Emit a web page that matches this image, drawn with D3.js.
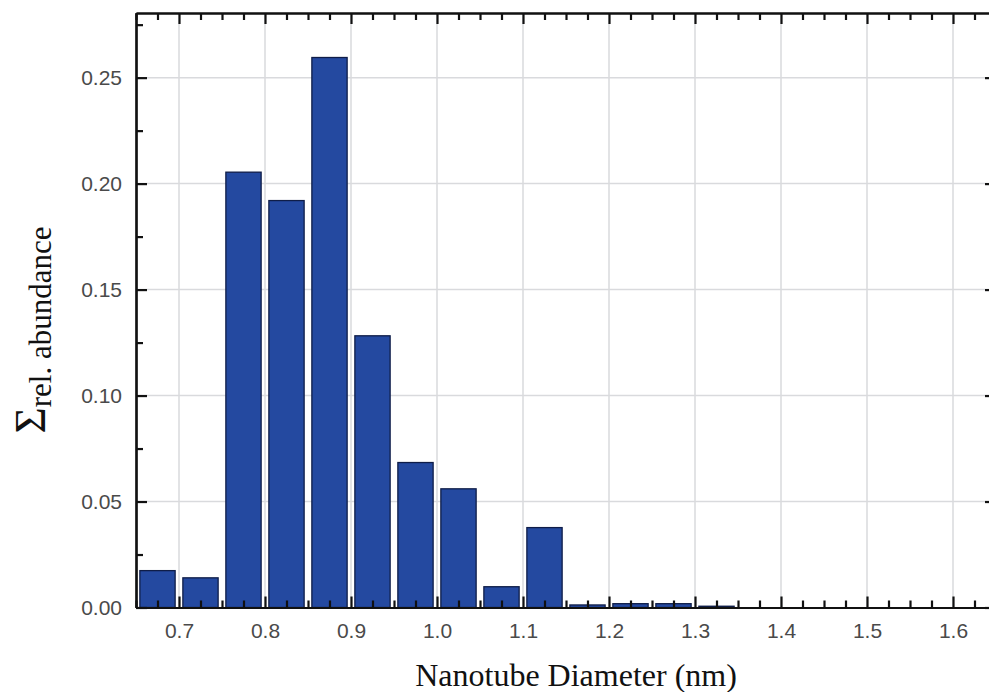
<!DOCTYPE html>
<html lang="en">
  <head>
    <meta charset="utf-8">
    <title>Nanotube diameter distribution</title>
    <style>
      body { margin: 0; background: #fff; }
      .axis path, .axis line { stroke: #111; stroke-width: 2.2px; }
      .axis text { font-family: "Liberation Sans", Arial, sans-serif; font-size: 21px; fill: #4a4a4a; }
      .grid line { stroke: #d9dadd; stroke-width: 1.5px; }
      .bar { fill: #2449a0; stroke: #0f1d48; stroke-width: 1.3px; }
      .title { font-family: "Liberation Serif", "Times New Roman", serif; fill: #111; }
    </style>
  </head>
  <body>
    <svg id="wrapper" width="989" height="692"></svg>

    <script src="https://cdnjs.cloudflare.com/ajax/libs/d3/7.8.5/d3.min.js"></script>
    <script>
    const margin = {top: 13, left: 136};
    const width = 860;
    const height = 594.5;

    // bin centres (nm) and relative abundance per bin
    const binCenters = [0.675, 0.725, 0.775, 0.825, 0.875, 0.925, 0.975, 1.025, 1.075, 1.125, 1.175, 1.225, 1.275, 1.325];
    const abundance  = [0.0174, 0.0140, 0.2054, 0.1920, 0.2595, 0.1282, 0.0684, 0.0560, 0.0098, 0.0377, 0.0012, 0.0018, 0.0018, 0.0006];

    const xTicks = [0.7, 0.8, 0.9, 1.0, 1.1, 1.2, 1.3, 1.4, 1.5, 1.6];
    const xMinor = d3.range(0.65, 1.651, 0.025).filter(v => Math.abs(Math.round(v * 10) - v * 10) > 0.01);
    const yTicks = [0.00, 0.05, 0.10, 0.15, 0.20, 0.25];
    const yMinor = [0.025, 0.075, 0.125, 0.175, 0.225, 0.275];
    const barWidth = 0.041;

    let svg = d3.select('#wrapper');
    let g = svg.append('g')
      .attr('transform', 'translate(' + margin.left + ',' + margin.top + ')');

    let x = d3.scaleLinear().domain([0.65, 1.65]).range([0, width]);
    let y = d3.scaleLinear().domain([0, 0.2805]).range([height, 0]);

    // grid
    g.append('g').attr('class', 'grid')
      .selectAll('line').data(xTicks).enter().append('line')
      .attr('x1', d => x(d)).attr('x2', d => x(d))
      .attr('y1', 0).attr('y2', height);
    g.append('g').attr('class', 'grid')
      .selectAll('line').data(yTicks.slice(1)).enter().append('line')
      .attr('x1', 0).attr('x2', width)
      .attr('y1', d => y(d)).attr('y2', d => y(d));

    // bars
    g.selectAll('.bar')
      .data(binCenters)
      .enter().append('rect')
      .attr('class', 'bar')
      .attr('x', d => x(d - barWidth / 2))
      .attr('width', x(barWidth) - x(0))
      .attr('y', (d, i) => y(abundance[i]))
      .attr('height', (d, i) => y(0) - y(abundance[i]));

    // axes - ticks point inward
    const fmt = d3.format('.1f');
    g.append('g').attr('class', 'axis')
      .attr('transform', 'translate(0,' + height + ')')
      .call(d3.axisBottom(x).tickValues(xTicks).tickFormat(fmt).tickSize(-11).tickSizeOuter(0).tickPadding(16));
    g.append('g').attr('class', 'axis')
      .attr('transform', 'translate(0,' + height + ')')
      .call(d3.axisBottom(x).tickValues(xMinor).tickFormat('').tickSize(-7).tickSizeOuter(0));
    g.append('g').attr('class', 'axis')
      .call(d3.axisTop(x).tickValues(xTicks).tickFormat('').tickSize(-11).tickSizeOuter(0));
    g.append('g').attr('class', 'axis')
      .call(d3.axisTop(x).tickValues(xMinor).tickFormat('').tickSize(-7).tickSizeOuter(0));

    g.append('g').attr('class', 'axis')
      .call(d3.axisLeft(y).tickValues(yTicks).tickFormat(d3.format('.2f')).tickSize(-11).tickSizeOuter(0).tickPadding(14));
    g.append('g').attr('class', 'axis')
      .call(d3.axisLeft(y).tickValues(yMinor).tickFormat('').tickSize(-7).tickSizeOuter(0));
    g.append('g').attr('class', 'axis')
      .attr('transform', 'translate(' + width + ',0)')
      .call(d3.axisRight(y).tickValues(yTicks).tickFormat('').tickSize(-11).tickSizeOuter(0));
    g.append('g').attr('class', 'axis')
      .attr('transform', 'translate(' + width + ',0)')
      .call(d3.axisRight(y).tickValues(yMinor).tickFormat('').tickSize(-7).tickSizeOuter(0));

    // axis titles
    svg.append('text')
      .attr('class', 'title')
      .attr('x', 576)
      .attr('y', 686)
      .attr('text-anchor', 'middle')
      .attr('font-size', 32)
      .text('Nanotube Diameter (nm)');

    let yt = svg.append('text')
      .attr('class', 'title')
      .attr('transform', 'translate(45,330) rotate(-90)')
      .attr('text-anchor', 'middle');
    yt.append('tspan').attr('font-size', 45).text('\u03A3');
    yt.append('tspan').attr('font-size', 31).attr('dy', 6).text('rel. abundance');
    </script>
  </body>
</html>
